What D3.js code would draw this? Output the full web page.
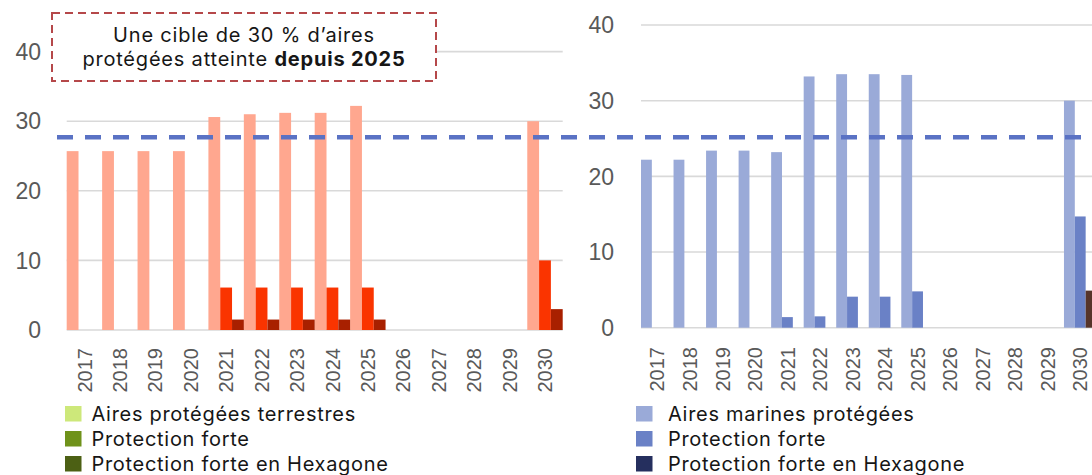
<!DOCTYPE html>
<html>
<head>
<meta charset="utf-8">
<script src="https://cdn.jsdelivr.net/npm/d3@7"></script>
<style>
  html, body { margin: 0; padding: 0; background: #fff; }
  svg { display: block; }
</style>
</head>
<body>
<svg id="chart" width="1092" height="475"></svg>
<script>
// ---------- DATA ----------
const years = ["2017","2018","2019","2020","2021","2022","2023","2024","2025","2026","2027","2028","2029","2030"];
const yTicks = [0, 10, 20, 30, 40];

const terrSeriesNames = ["Aires protégées terrestres", "Protection forte", "Protection forte en Hexagone"];
const terrAires    = [25.7, 25.7, 25.7, 25.7, 30.6, 31.0, 31.2, 31.2, 32.2, null, null, null, null, 30.0];
const terrForte    = [null, null, null, null, 6.1, 6.1, 6.1, 6.1, 6.1, null, null, null, null, 10.0];
const terrForteHex = [null, null, null, null, 1.5, 1.5, 1.5, 1.5, 1.5, null, null, null, null, 3.0];

const marSeriesNames = ["Aires marines protégées", "Protection forte", "Protection forte en Hexagone"];
const marAires    = [22.2, 22.2, 23.4, 23.4, 23.2, 33.2, 33.5, 33.5, 33.4, null, null, null, null, 30.0];
const marForte    = [null, null, null, null, 1.4, 1.5, 4.1, 4.1, 4.8, null, null, null, null, 14.7];
const marForteHex = [null, null, null, null, null, null, null, null, null, null, null, null, null, 4.9];

const targetLine = 27.7; // on left-chart scale
const boxLine1 = "Une cible de 30 % d’aires";
const boxLine2a = "protégées atteinte ";
const boxLine2b = "depuis 2025";

// ---------- STYLE ----------
const terrBarColors = ["#ffa78f", "#fa3400", "#a82000"];
const terrLegendColors = ["#cde87a", "#6f921a", "#4c6014"];
const marBarColors = ["#9aaad8", "#6a81c6", "#56342a"];
const marLegendColors = ["#9aaad8", "#6a81c6", "#252f5e"];
const textFont = "Inter, 'Open Sans', sans-serif";
const axisFont = "'Liberation Sans', Arial, sans-serif";

const svg = d3.select("#chart");

function drawPanel(opts) {
  const { x0, x1, y0, y40, series, barColors, legendColors, names, tickRight, labelTop, legendX, textX } = opts;
  const x = d3.scaleBand().domain(years).range([x0, x1]).paddingInner(0).paddingOuter(0);
  const y = d3.scaleLinear().domain([0, 40]).range([y0, y40]);
  const sub = d3.scaleBand().domain(d3.range(series.length)).range([0, x.bandwidth()]).padding(0);
  const g = svg.append("g");

  g.selectAll("line.grid").data(yTicks).enter().append("line")
    .attr("x1", x0).attr("x2", Math.min(x1, 1092))
    .attr("y1", d => y(d)).attr("y2", d => y(d))
    .attr("stroke", "#d9d9d9").attr("stroke-width", 1.6);

  g.selectAll("text.ytick").data(yTicks).enter().append("text")
    .attr("x", tickRight).attr("y", d => y(d))
    .attr("dy", "0.36em").attr("text-anchor", "end")
    .style("font-family", axisFont)
    .style("font-size", "23px").style("fill", "#595959")
    .text(d => d);

  series.forEach((vals, si) => {
    g.selectAll(null).data(years.map((yr, i) => ({ yr, v: vals[i] })).filter(d => d.v != null))
      .enter().append("rect")
      .attr("x", d => x(d.yr) + sub(si))
      .attr("width", sub.bandwidth())
      .attr("y", d => y(d.v))
      .attr("height", d => y(0) - y(d.v))
      .attr("fill", barColors[si]);
  });

  g.selectAll("text.xl").data(years).enter().append("text")
    .attr("transform", d => `translate(${x(d) + x.bandwidth() / 2},${labelTop}) rotate(-90)`)
    .attr("text-anchor", "end").attr("dy", "0.36em")
    .style("font-family", axisFont)
    .style("font-size", "20px").style("fill", "#595959")
    .text(d => d);

  names.forEach((n, i) => {
    const ly = 406 + i * 25;
    g.append("rect").attr("x", legendX).attr("y", ly).attr("width", 16.5).attr("height", 15.5)
      .attr("fill", legendColors[i]);
    g.append("text").attr("x", textX).attr("y", ly + 14.5)
      .style("font-family", textFont)
      .style("font-size", "20px").style("letter-spacing", "0.7px").style("fill", "#161616")
      .text(n);
  });
  return { x, y };
}

const left = drawPanel({
  x0: 66.7, x1: 562.7, y0: 330, y40: 51.6,
  series: [terrAires, terrForte, terrForteHex],
  barColors: terrBarColors, legendColors: terrLegendColors, names: terrSeriesNames,
  tickRight: 41, labelTop: 348, legendX: 65, textX: 91.5
});

const right = drawPanel({
  x0: 641, x1: 1096.5, y0: 327.7, y40: 25,
  series: [marAires, marForte, marForteHex],
  barColors: marBarColors, legendColors: marLegendColors, names: marSeriesNames,
  tickRight: 614, labelTop: 347, legendX: 636, textX: 668
});

svg.append("line")
  .attr("x1", 57).attr("x2", 1081)
  .attr("y1", left.y(targetLine)).attr("y2", left.y(targetLine))
  .attr("stroke", "#5a72c4").attr("stroke-width", 4.5)
  .attr("stroke-dasharray", "16,12");

const box = svg.append("g");
box.append("rect").attr("x", 52).attr("y", 13).attr("width", 384).attr("height", 68)
  .attr("fill", "#fff").attr("stroke", "#b5484a").attr("stroke-width", 2)
  .attr("stroke-dasharray", "8,5");
box.append("text").attr("x", 244).attr("y", 41.5).attr("text-anchor", "middle")
  .style("font-family", textFont).style("font-size", "20px").style("letter-spacing", "0.8px").style("fill", "#161616")
  .text(boxLine1);
const t2 = box.append("text").attr("x", 244).attr("y", 66).attr("text-anchor", "middle")
  .style("font-family", textFont).style("font-size", "20px").style("letter-spacing", "0.8px").style("fill", "#161616");
t2.append("tspan").text(boxLine2a);
t2.append("tspan").style("font-weight", "bold").text(boxLine2b);
</script>
</body>
</html>
